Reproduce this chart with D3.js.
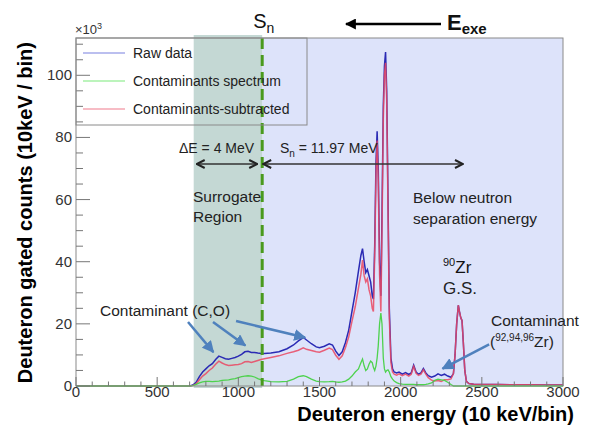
<!DOCTYPE html>
<html>
<head>
<meta charset="utf-8">
<script src="https://cdn.jsdelivr.net/npm/d3@7"></script>
<style>
  body { margin: 0; background: #fff; }
  svg { font-family: "Liberation Sans", Arial, sans-serif; }
</style>
</head>
<body>
<div id="chart"></div>
<script>
// deuteron energy bins (10 keV/bin) where the spectra were read
const bins = [
  0, 700, 720, 740, 760, 780, 800, 820, 840, 860,
  880, 900, 920, 940, 960, 980, 1000, 1020, 1040, 1060,
  1080, 1100, 1120, 1140, 1160, 1200, 1250, 1300, 1340, 1370,
  1400, 1420, 1450, 1480, 1500, 1530, 1560, 1580, 1600, 1620,
  1640, 1660, 1680, 1700, 1720, 1740, 1755, 1765, 1775, 1785,
  1795, 1805, 1815, 1825, 1832, 1840, 1848, 1855, 1862, 1870,
  1878, 1885, 1893, 1900, 1907, 1914, 1922, 1930, 1940, 1950,
  1960, 1975, 1990, 2010, 2030, 2050, 2065, 2080, 2095, 2110,
  2125, 2140, 2155, 2170, 2190, 2210, 2230, 2250, 2270, 2290,
  2310, 2325, 2335, 2345, 2355, 2362, 2370, 2378, 2386, 2395,
  2405, 2420, 2450, 2500, 2600, 2700, 2800, 2900, 3000
];

// counts in units of 10^3
const rawCounts = [
  0, 0, 0.3, 1.2, 3.0, 4.5, 5.5, 6.5, 7.2, 8.5,
  9.6, 9.2, 8.8, 8.6, 8.9, 9.2, 9.6, 10.2, 11.0, 11.2,
  10.8, 10.8, 10.6, 10.5, 10.5, 10.6, 11.0, 12.0, 13.2, 14.5,
  15.6, 14.8, 13.6, 12.6, 12.3, 12.8, 13.6, 13.2, 11.2, 9.8,
  11.0, 14.0, 18.0, 24.0, 30.0, 37.0, 42.0, 44.2, 40.0, 36.5,
  37.5, 35.5, 33.5, 29.0, 28.0, 45.0, 72.0, 82.0, 70.0, 40.0,
  29.0, 55.0, 90.0, 103.0, 107.5, 95.0, 60.0, 25.0, 9.0, 5.5,
  4.5, 4.2, 4.5, 3.8, 4.3, 3.7, 4.2, 6.7, 4.5, 3.8,
  4.2, 5.6, 4.2, 3.3, 2.8, 3.2, 3.9, 3.4, 3.8, 3.2,
  2.8, 4.0, 10.0, 20.0, 26.0, 24.0, 22.0, 21.0, 14.0, 5.0,
  1.5, 0.8, 0.6, 0.5, 0.5, 0.4, 0.4, 0.3, 0.3
];

const contCounts = [
  0, 0, 0.1, 0.5, 1.0, 1.3, 1.5, 1.5, 1.4, 1.5,
  1.6, 1.8, 1.9, 2.0, 2.2, 2.4, 2.7, 3.0, 3.2, 3.3,
  3.2, 2.9, 2.4, 2.0, 1.7, 1.4, 1.3, 1.5, 2.2, 3.0,
  3.3, 3.0, 2.2, 1.6, 1.4, 1.3, 1.4, 1.5, 1.3, 1.2,
  1.3, 1.6, 2.2, 3.2, 4.5, 5.5, 7.5, 8.7, 6.5, 5.0,
  5.5, 7.0, 8.0, 7.5, 6.0, 5.0, 6.5, 9.0, 13.0, 20.0,
  23.5, 20.0, 9.0, 5.5, 4.5, 5.0, 5.2, 4.5, 3.0, 2.2,
  1.6, 1.1, 0.8, 0.6, 0.5, 0.5, 0.5, 0.5, 0.4, 0.4,
  0.4, 0.4, 0.5, 0.7, 1.0, 1.8, 2.2, 2.0, 1.8, 1.2,
  0.5, 0, 0, 0, 0, 0, 0, 0, 0, 0,
  0, 0, 0, 0, 0, 0, 0, 0, 0
];

const subCounts = [
  0, 0, 0.2, 0.7, 2.0, 3.2, 4.0, 5.0, 5.8, 7.0,
  8.0, 7.4, 6.9, 6.6, 6.7, 6.8, 6.9, 7.2, 7.8, 7.9,
  7.6, 7.9, 8.2, 8.5, 8.8, 9.2, 9.7, 10.5, 11.0, 11.5,
  12.3, 11.8, 11.4, 11.0, 10.9, 11.5, 12.2, 11.7, 9.9, 8.6,
  9.7, 12.4, 15.8, 20.8, 25.5, 31.5, 36.0, 40.5, 35.5, 33.5,
  34.5, 31.0, 29.0, 25.0, 24.0, 42.0, 68.0, 79.0, 66.0, 36.0,
  24.0, 50.0, 86.0, 100.0, 104.0, 92.0, 57.0, 22.0, 7.5, 4.5,
  3.8, 3.5, 3.9, 3.3, 3.8, 3.2, 3.8, 6.3, 4.1, 3.4,
  3.8, 5.2, 3.8, 2.7, 1.9, 1.6, 1.8, 1.5, 2.0, 2.0,
  2.3, 4.0, 10.0, 20.0, 26.0, 24.0, 22.0, 21.0, 14.0, 5.0,
  1.5, 0.8, 0.6, 0.5, 0.5, 0.4, 0.4, 0.3, 0.3
];

const seriesNames = ["Raw data", "Contaminants spectrum", "Contaminants-subtracted"];
const xTicks = [0, 500, 1000, 1500, 2000, 2500, 3000];
const yTicks = [0, 20, 40, 60, 80, 100];
const surrogateStart = 725;   // lower edge of surrogate window
const snBin = 1147;           // S_n position

const W = 607, H = 432;
const margin = { top: 38, right: 44, bottom: 46, left: 76 };

const svg = d3.select("#chart").append("svg").attr("width", W).attr("height", H);

const x = d3.scaleLinear().domain([0, 3000]).range([margin.left, W - margin.right]);
const y = d3.scaleLinear().domain([0, 112]).range([H - margin.bottom, margin.top]);

const defs = svg.append("defs");
defs.append("marker").attr("id", "chev")
  .attr("viewBox", "0 0 10 10").attr("refX", 9).attr("refY", 5)
  .attr("markerWidth", 10).attr("markerHeight", 10).attr("markerUnits", "userSpaceOnUse")
  .attr("orient", "auto-start-reverse")
  .append("path").attr("d", "M1,1 L9,5 L1,9").attr("fill", "none")
  .attr("stroke", "#222").attr("stroke-width", 2);
defs.append("marker").attr("id", "triBlue")
  .attr("viewBox", "0 0 10 10").attr("refX", 9).attr("refY", 5)
  .attr("markerWidth", 12).attr("markerHeight", 12).attr("markerUnits", "userSpaceOnUse")
  .attr("orient", "auto")
  .append("path").attr("d", "M0,0 L10,5 L0,10 Z").attr("fill", "#4f81bd");
defs.append("marker").attr("id", "triBlack")
  .attr("viewBox", "0 0 10 10").attr("refX", 9).attr("refY", 5)
  .attr("markerWidth", 11).attr("markerHeight", 11).attr("markerUnits", "userSpaceOnUse")
  .attr("orient", "auto")
  .append("path").attr("d", "M0,0 L10,5 L0,10 Z").attr("fill", "#000");

const x0 = x.range()[0], x1 = x.range()[1];
const yTop = y.range()[1], yBot = y.range()[0];

// shaded regions
svg.append("rect")
  .attr("x", x(snBin)).attr("y", yTop)
  .attr("width", x1 - x(snBin)).attr("height", yBot - yTop)
  .attr("fill", "#dde3fa");
svg.append("rect")
  .attr("x", x(surrogateStart)).attr("y", yTop - 3)
  .attr("width", x(snBin) - x(surrogateStart)).attr("height", yBot - yTop + 5)
  .attr("fill", "#c4d8d4");

// spectra
const pts = (vals) => bins.map((b, i) => [b, vals[i]]);
const line = d3.line().x(d => x(d[0])).y(d => y(d[1]));

svg.append("path").attr("d", line(pts(rawCounts)))
  .attr("fill", "none").attr("stroke", "#2a2ab4").attr("stroke-width", 1.5);
svg.append("path").attr("d", line(pts(subCounts)))
  .attr("fill", "none").attr("stroke", "#ea4862").attr("stroke-width", 1.5).attr("stroke-opacity", 0.85);
svg.append("path").attr("d", line(pts(contCounts)))
  .attr("fill", "none").attr("stroke", "#4ed24e").attr("stroke-width", 1.3);

// Sn dashed line
svg.append("line")
  .attr("x1", x(snBin)).attr("x2", x(snBin))
  .attr("y1", yTop).attr("y2", yBot)
  .attr("stroke", "#4a9a1e").attr("stroke-width", 3).attr("stroke-dasharray", "11,6");

// frame
svg.append("rect")
  .attr("x", x0).attr("y", yTop).attr("width", x1 - x0).attr("height", yBot - yTop)
  .attr("fill", "none").attr("stroke", "#8a8a8a").attr("stroke-width", 1);

// x axis ticks (inside, pointing up)
const xMinor = d3.range(0, 3001, 100);
svg.append("g").selectAll("line").data(xMinor).join("line")
  .attr("x1", d => x(d)).attr("x2", d => x(d))
  .attr("y1", yBot).attr("y2", d => yBot - (d % 500 === 0 ? 9 : 4.5))
  .attr("stroke", "#777").attr("stroke-width", 1);
svg.append("g").selectAll("text").data(xTicks).join("text")
  .attr("x", d => x(d)).attr("y", yBot + 11)
  .attr("text-anchor", "middle").attr("font-size", 15).attr("fill", "#333")
  .text(d => d);

// y axis ticks (inside, pointing right)
const yMinor = d3.range(0, 111, 5);
svg.append("g").selectAll("line").data(yMinor).join("line")
  .attr("x1", x0).attr("x2", d => x0 + (d % 20 === 0 ? 14 : 7))
  .attr("y1", d => y(d)).attr("y2", d => y(d))
  .attr("stroke", "#777").attr("stroke-width", 1);
svg.append("g").selectAll("text").data(yTicks).join("text")
  .attr("x", x0 - 4).attr("y", d => y(d) + 5)
  .attr("text-anchor", "end").attr("font-size", 15).attr("fill", "#333")
  .text(d => d);

// x10^3
const mult = svg.append("text").attr("x", x0 - 1).attr("y", yTop - 4)
  .attr("font-size", 13).attr("fill", "#333");
mult.append("tspan").text("\u00d710");
mult.append("tspan").attr("dy", -5).attr("font-size", 9).text("3");

// axis titles
svg.append("text")
  .attr("x", 574).attr("y", 421)
  .attr("text-anchor", "end").attr("font-size", 20).attr("font-weight", "bold")
  .text("Deuteron energy (10 keV/bin)");
svg.append("text")
  .attr("transform", `translate(32, 42) rotate(-90)`)
  .attr("text-anchor", "end").attr("font-size", 20).attr("font-weight", "bold")
  .text("Deuteron gated counts (10keV / bin)");

// legend
const lg = svg.append("g");
lg.append("rect").attr("x", x0).attr("y", yTop).attr("width", 231).attr("height", 87)
  .attr("fill", "none").attr("stroke", "#8a8a8a");
const lgColors = ["#a4aaea", "#a6f0a6", "#f4a6b2"];
seriesNames.forEach((name, i) => {
  const cy = yTop + 15 + i * 28;
  lg.append("line").attr("x1", x0 + 7).attr("x2", x0 + 49).attr("y1", cy).attr("y2", cy)
    .attr("stroke", lgColors[i]).attr("stroke-width", 1.5);
  lg.append("text").attr("x", x0 + 57).attr("y", cy + 5).attr("font-size", 14).attr("fill", "#222")
    .text(name);
});

// S_n label at top
const sn = svg.append("text").attr("x", x(snBin) - 9).attr("y", 28).attr("font-size", 20).attr("fill", "#111");
sn.append("tspan").text("S");
sn.append("tspan").attr("dy", 5).attr("font-size", 14).text("n");

// E_exe arrow
svg.append("line").attr("x1", 441).attr("x2", 346).attr("y1", 24).attr("y2", 24)
  .attr("stroke", "#000").attr("stroke-width", 2.5).attr("marker-end", "url(#triBlack)");
const ee = svg.append("text").attr("x", 447).attr("y", 30).attr("font-size", 22)
  .attr("font-weight", "bold").attr("fill", "#111");
ee.append("tspan").text("E");
ee.append("tspan").attr("dy", 4).attr("font-size", 15).text("exe");

// Delta E and Sn annotations
svg.append("text").attr("x", 179).attr("y", 153).attr("font-size", 14).attr("fill", "#222")
  .text("\u0394E = 4 MeV");
const snT = svg.append("text").attr("x", 280).attr("y", 153).attr("font-size", 14).attr("fill", "#222");
snT.append("tspan").text("S");
snT.append("tspan").attr("dy", 4).attr("font-size", 10).text("n");
snT.append("tspan").attr("dy", -4).text(" = 11.97 MeV");

svg.append("line").attr("x1", x(surrogateStart) + 3).attr("x2", x(snBin) - 5)
  .attr("y1", 164).attr("y2", 164).attr("stroke", "#333").attr("stroke-width", 1.3)
  .attr("marker-start", "url(#chev)").attr("marker-end", "url(#chev)");
svg.append("line").attr("x1", x(snBin) + 1).attr("x2", 463)
  .attr("y1", 164).attr("y2", 164).attr("stroke", "#333").attr("stroke-width", 1.3)
  .attr("marker-start", "url(#chev)").attr("marker-end", "url(#chev)");

const txt = (tx, ty, s, size) => svg.append("text").attr("x", tx).attr("y", ty)
  .attr("font-size", size || 15.5).attr("fill", "#222").text(s);
txt(193, 202, "Surrogate");
txt(193, 222, "Region");
txt(413, 203, "Below neutron");
txt(413, 224, "separation energy");

// 90Zr G.S.
const zr = svg.append("text").attr("x", 443).attr("y", 273).attr("font-size", 17).attr("fill", "#111");
zr.append("tspan").attr("dy", -7).attr("font-size", 11).text("90");
zr.append("tspan").attr("dy", 7).text("Zr");
txt(443, 294, "G.S.", 17);

// Contaminant (Zr)
txt(491, 326, "Contaminant", 15.5);
const cz = svg.append("text").attr("x", 490).attr("y", 347).attr("font-size", 15.5).attr("fill", "#222");
cz.append("tspan").text("(");
cz.append("tspan").attr("dy", -6).attr("font-size", 10).text("92,94,96");
cz.append("tspan").attr("dy", 6).text("Zr)");

// Contaminant (C,O)
txt(100, 316, "Contaminant (C,O)", 15.5);

// blue annotation arrows: [tailBin, tailCount, tipBin, tipCount]
const blueArrows = [
  [690, 20.6, 846, 10.9],
  [844, 20.6, 1043, 13.0],
  [986, 20.9, 1411, 15.6],
  [2545, 13.4, 2258, 5.6]
];
svg.append("g").selectAll("line").data(blueArrows).join("line")
  .attr("x1", d => x(d[0])).attr("y1", d => y(d[1]))
  .attr("x2", d => x(d[2])).attr("y2", d => y(d[3]))
  .attr("stroke", "#4f81bd").attr("stroke-width", 2.5)
  .attr("marker-end", "url(#triBlue)");
</script>
</body>
</html>
